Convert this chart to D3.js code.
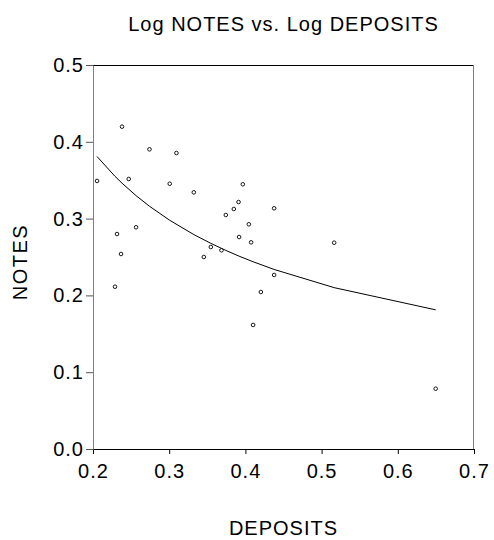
<!DOCTYPE html>
<html><head><meta charset="utf-8">
<script src="https://cdn.jsdelivr.net/npm/d3@7"></script>
<style>body{margin:0;background:#fff}svg{display:block}text{font-family:"Liberation Sans",Arial,sans-serif;fill:#000}</style>
</head><body>
<script>
const deposits = [0.2053,0.2381,0.2741,0.3095,0.2469,0.3007,0.3323,0.3966,0.3910,0.3848,0.3743,0.4377,0.2315,0.2565,0.4045,0.3917,0.4075,0.3546,0.3686,0.2368,0.5165,0.3454,0.2289,0.4377,0.4203,0.4101,0.6497];
const notes =    [0.349,0.4197,0.3902,0.3854,0.3516,0.3454,0.3342,0.3447,0.3216,0.3125,0.3047,0.3134,0.2799,0.2887,0.2926,0.2760,0.2691,0.2630,0.2587,0.2539,0.2686,0.2500,0.2113,0.2266,0.2044,0.1615,0.0785];
const fitX = [0.2053,0.2289,0.2381,0.2565,0.2741,0.3007,0.3323,0.3546,0.3743,0.3917,0.4101,0.4377,0.5165,0.6497];
const fitY = [0.3808,0.3550,0.3461,0.3299,0.3161,0.2978,0.2792,0.2678,0.2586,0.2511,0.2438,0.2338,0.2101,0.1812];
const xTicks = [0.2,0.3,0.4,0.5,0.6,0.7];
const yTicks = [0.0,0.1,0.2,0.3,0.4,0.5];
const title = "Log NOTES vs. Log DEPOSITS", xTitle = "DEPOSITS", yTitle = "NOTES";

const W=494,H=540, L=93, R=474, T=65, B=449;
const svg = d3.select("body").append("svg").attr("width",W).attr("height",H);
const x = d3.scaleLinear().domain([0.2,0.7]).range([L,R]);
const y = d3.scaleLinear().domain([0,0.5]).range([B,T]);

// frame
svg.append("line").attr("x1",L).attr("x2",R).attr("y1",T+0.5).attr("y2",T+0.5).attr("stroke","#000");
svg.append("line").attr("x1",R-0.5).attr("x2",R-0.5).attr("y1",T).attr("y2",B).attr("stroke","#808080");

const fontSz = 20;
const xa = svg.append("g").attr("transform",`translate(0,${B})`)
  .call(d3.axisBottom(x).tickValues(xTicks).tickFormat(d3.format(".1f")).tickSize(5).tickPadding(10).tickSizeOuter(0));
xa.select(".domain").attr("stroke","#000");
xa.selectAll(".tick line").attr("stroke","#000");
xa.selectAll("text").attr("font-size",fontSz).attr("letter-spacing","1px").attr("font-family","Liberation Sans, Arial");
const ya = svg.append("g").attr("transform",`translate(${L},0)`)
  .call(d3.axisLeft(y).tickValues(yTicks).tickFormat(d3.format(".1f")).tickSize(7).tickPadding(2).tickSizeOuter(0));
ya.select(".domain").attr("stroke","#808080");
ya.selectAll(".tick line").attr("stroke","#555");
ya.selectAll("text").attr("font-size",fontSz).attr("letter-spacing","1px").attr("font-family","Liberation Sans, Arial");

// fitted line
const pts = fitX.map((d,i)=>[d,fitY[i]]);
svg.append("path").attr("d",d3.line().x(d=>x(d[0])).y(d=>y(d[1]))(pts))
  .attr("fill","none").attr("stroke","#000").attr("stroke-width",1);

// points
svg.append("g").selectAll("circle").data(deposits.map((d,i)=>[d,notes[i]])).join("circle")
  .attr("cx",d=>x(d[0])).attr("cy",d=>y(d[1])).attr("r",1.8)
  .attr("fill","#fff").attr("stroke","#000").attr("stroke-width",0.9);

svg.append("text").attr("x",(L+R)/2).attr("y",31).attr("text-anchor","middle")
  .attr("font-size",20).attr("letter-spacing","1px").text(title);
svg.append("text").attr("x",(L+R)/2).attr("y",535).attr("text-anchor","middle")
  .attr("font-size",20).attr("letter-spacing","1px").text(xTitle);
svg.append("text").attr("transform",`translate(27,262) rotate(-90)`).attr("text-anchor","middle")
  .attr("font-size",20).attr("letter-spacing","1.5px").text(yTitle);
</script>
</body></html>
